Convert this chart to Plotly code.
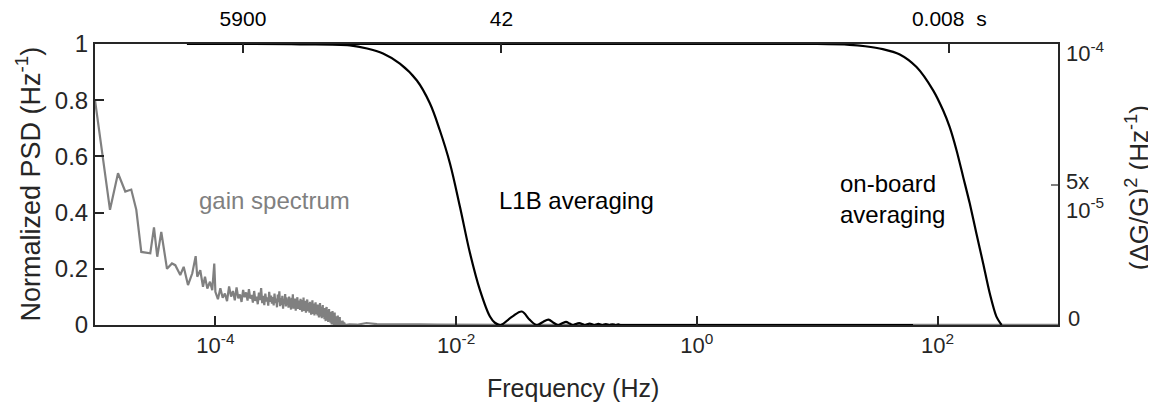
import numpy as np
import plotly.graph_objects as go

# ---------------- data ----------------
# L1B averaging filter response (normalized)
l1b_freq = [5.8e-5, 5.05e-4, 1.31e-3, 1.82e-3, 2.47e-3, 3.41e-3, 4.72e-3, 6.05e-3,
            7.32e-3, 8.89e-3, 1.077e-2, 1.303e-2, 1.578e-2, 1.91e-2, 2.1e-2, 2.34e-2,
            2.925e-2, 3.51e-2, 4.095e-2, 4.68e-2, 5.265e-2, 5.85e-2, 6.435e-2, 7.02e-2,
            7.605e-2, 8.19e-2, 8.775e-2, 9.36e-2, 0.1053, 0.117, 0.1287, 0.1404, 0.152,
            0.1638, 0.1755, 0.1872, 0.199, 0.2106, 0.2223, 0.234, 0.3, 1.0, 10.0, 62.5]
l1b_val = [1.0, 0.999, 0.995, 0.984, 0.966, 0.93, 0.87, 0.789,
           0.693, 0.575, 0.42, 0.256, 0.124, 0.03, 0.008, 0.0,
           0.030, 0.048, 0.018, 0.0, 0.011, 0.019, 0.008, 0.0,
           0.006, 0.011, 0.005, 0.0, 0.007, 0.0, 0.005, 0.0, 0.004,
           0.0, 0.003, 0.0, 0.0025, 0.0, 0.002, 0.0, 0.0, 0.0, 0.0, 0.0]

# On-board averaging filter response (normalized)
ob_freq = [1e-3, 10, 18.6, 25, 35, 48.5, 66.8, 91.8, 111, 126, 143.5, 163, 185, 210,
           239, 271, 308, 340]
ob_val = [1.0, 1.0, 0.997, 0.992, 0.982, 0.963, 0.918, 0.835, 0.764, 0.704, 0.622,
          0.527, 0.432, 0.326, 0.219, 0.113, 0.03, 0.0]

# Gain spectrum, low-frequency part (normalized, 1 = 1e-4 Hz^-1)
gain_lo_freq = [1.0e-5, 1.332e-5, 1.553e-5, 1.785e-5, 2.0e-5, 2.203e-5, 2.424e-5, 2.879e-5,
                3.09e-5, 3.29e-5, 3.553e-5, 3.963e-5, 4.36e-5, 4.645e-5, 5.11e-5, 5.455e-5,
                5.922e-5, 6.43e-5, 6.86e-5, 7.07e-5, 7.49e-5, 7.89e-5, 8.2e-5, 8.57e-5,
                9.02e-5, 9.42e-5, 9.79e-5]
gain_lo_val = [0.80, 0.41, 0.54, 0.475, 0.482, 0.41, 0.26, 0.255,
               0.347, 0.243, 0.331, 0.20, 0.219, 0.213, 0.178, 0.207,
               0.142, 0.184, 0.245, 0.172, 0.195, 0.136, 0.172, 0.13,
               0.154, 0.124, 0.219]

# Gain spectrum, dense noisy band from 1e-4 Hz, one value per 5e-6 Hz bin
gain_band_start = 1.0e-4
gain_band_step = 5.0e-6
gain_band_val = [
    0.118, 0.092, 0.131, 0.097, 0.112, 0.085, 0.137, 0.101, 0.121, 0.088, 0.134, 0.095, 0.109, 0.082, 0.125, 0.099, 0.116, 0.087, 0.128, 0.094,
    0.107, 0.080, 0.121, 0.086, 0.101, 0.074, 0.115, 0.089, 0.131, 0.078, 0.104, 0.071, 0.112, 0.084, 0.098, 0.069, 0.118, 0.082, 0.105, 0.076,
    0.099, 0.070, 0.112, 0.078, 0.094, 0.063, 0.108, 0.081, 0.120, 0.067, 0.096, 0.072, 0.104, 0.058, 0.091, 0.075, 0.110, 0.066, 0.098, 0.071,
    0.090, 0.062, 0.101, 0.070, 0.085, 0.055, 0.097, 0.068, 0.109, 0.058, 0.088, 0.064, 0.094, 0.051, 0.083, 0.066, 0.099, 0.057, 0.087, 0.063,
    0.082, 0.054, 0.093, 0.061, 0.077, 0.047, 0.089, 0.059, 0.098, 0.050, 0.079, 0.056, 0.086, 0.044, 0.074, 0.058, 0.091, 0.049, 0.078, 0.055,
    0.072, 0.044, 0.083, 0.051, 0.067, 0.037, 0.079, 0.049, 0.088, 0.040, 0.069, 0.046, 0.076, 0.034, 0.064, 0.048, 0.081, 0.039, 0.068, 0.045,
    0.062, 0.034, 0.073, 0.041, 0.057, 0.027, 0.069, 0.039, 0.078, 0.030, 0.059, 0.036, 0.066, 0.024, 0.054, 0.038, 0.071, 0.029, 0.058, 0.035,
    0.049, 0.021, 0.060, 0.028, 0.044, 0.014, 0.056, 0.026, 0.064, 0.017, 0.046, 0.023, 0.053, 0.011, 0.041, 0.025, 0.057, 0.016, 0.045, 0.022,
    0.036, 0.008, 0.047, 0.015, 0.031, 0.002, 0.043, 0.013, 0.050, 0.004, 0.033, 0.010, 0.040, -0.002, 0.028, 0.012, 0.044, 0.003, 0.032, 0.009,
    0.022, 0.000, 0.031, 0.004, 0.018, -0.004, 0.027, 0.002, 0.034, -0.003, 0.019, 0.001, 0.025, -0.005, 0.015, 0.003, 0.028, -0.002, 0.017, 0.001,
    0.010, -0.003, 0.015, 0.000, 0.008, -0.004, 0.012, 0.001, 0.016, -0.002, 0.007, 0.000, 0.011, -0.003, 0.006, 0.001, 0.009, -0.001, 0.005, 0.000,
]

# Gain spectrum, high-frequency tail
gain_hi_freq = [1.3e-3, 1.5e-3, 1.8e-3, 2.2e-3, 2.8e-3, 3.5e-3, 5e-3, 7e-3, 1e-2, 2e-2,
                5e-2, 0.1, 1.0, 10.0, 100.0, 1000.0]
gain_hi_val = [0.002, 0.001, 0.007, 0.003, 0.002, 0.001, 0.002, 0.0015, 0.001, 0.001,
               0.0005, 0.0005, 0.0003, 0.0002, 0.0002, 0.0002]

# axis ticks / labels
x_tickvals = [1e-4, 1e-2, 1e0, 1e2]
x_ticktext = ["10<sup>-4</sup>", "10<sup>-2</sup>", "10<sup>0</sup>", "10<sup>2</sup>"]
top_periods = [5900, 42, 0.008]
top_ticktext = ["5900", "42", "0.008\u00a0\u00a0s"]
y_tickvals = [0, 0.2, 0.4, 0.6, 0.8, 1.0]
y_ticktext = ["0", "0.2", "0.4", "0.6", "0.8", "1"]
right_tickvals = [0, 5e-5, 1e-4]
right_ticktext = ["0", "5x<br>10<sup>-5</sup>", "10<sup>-4</sup>"]

# ---------------- figure ----------------
FONT = "Liberation Sans, Arial, Helvetica, sans-serif"
AX = "#262626"
GREY = "#808080"

gain_band_freq = gain_band_start + gain_band_step * np.arange(len(gain_band_val))
gain_freq = list(gain_lo_freq) + list(gain_band_freq) + list(gain_hi_freq)
gain_val = list(gain_lo_val) + list(gain_band_val) + list(gain_hi_val)

fig = go.Figure()
fig.add_trace(go.Scatter(x=gain_freq, y=gain_val, mode="lines",
                         line=dict(color=GREY, width=2.2), hoverinfo="skip", showlegend=False))
fig.add_trace(go.Scatter(x=l1b_freq, y=l1b_val, mode="lines",
                         line=dict(color="black", width=2.2, shape="spline", smoothing=1),
                         hoverinfo="skip", showlegend=False))
fig.add_trace(go.Scatter(x=ob_freq, y=ob_val, mode="lines",
                         line=dict(color="black", width=2.2, shape="spline", smoothing=0.8),
                         hoverinfo="skip", showlegend=False))
# anchor traces so the top and right axes are drawn
fig.add_trace(go.Scatter(x=[None], y=[None], xaxis="x2", yaxis="y", showlegend=False, hoverinfo="skip"))
fig.add_trace(go.Scatter(x=[None], y=[None], xaxis="x", yaxis="y2", showlegend=False, hoverinfo="skip"))

common_axis = dict(showgrid=False, zeroline=False, showline=True, linecolor=AX, linewidth=2,
                   ticks="inside", ticklen=9, tickwidth=2, tickcolor=AX, automargin=False)

# the page body has an 8px default margin, so the figure is 8px smaller
fig.update_layout(
    width=1148, height=405,
    margin=dict(l=87, r=98, t=36, b=88),
    paper_bgcolor="white", plot_bgcolor="white",
    font=dict(family=FONT, color=AX),
    xaxis=dict(type="log", range=[-5, 3], tickvals=x_tickvals, ticktext=x_ticktext,
               tickfont=dict(size=22, color=AX), **common_axis),
    xaxis2=dict(type="log", range=[-5, 3], overlaying="x", side="top", anchor="y",
                tickvals=[1.0 / p for p in top_periods], ticktext=top_ticktext,
                ticklabelstandoff=8,
                tickfont=dict(size=21, color="black"), **common_axis),
    yaxis=dict(range=[0, 1], tickvals=y_tickvals, ticktext=y_ticktext,
               tickfont=dict(size=24, color=AX), **common_axis),
    yaxis2=dict(range=[0, 1e-4], overlaying="y", side="right", anchor="x",
                tickvals=[5e-5], showticklabels=False, showgrid=False, zeroline=False,
                showline=True, linecolor=AX, linewidth=2, ticks="inside", ticklen=7,
                tickwidth=2, tickcolor=GREY, automargin=False),
)

ann = []
# right-axis tick labels
ann.append(dict(xref="paper", yref="y2", x=1, xshift=6, y=right_tickvals[2], yshift=-8,
                text=right_ticktext[2], xanchor="left", yanchor="middle", showarrow=False,
                font=dict(size=22, color=AX)))
ann.append(dict(xref="paper", yref="y2", x=1, xshift=6, y=right_tickvals[1], yshift=-11,
                text=right_ticktext[1], xanchor="left", yanchor="middle", align="left",
                showarrow=False, font=dict(size=22, color=AX)))
ann.append(dict(xref="paper", yref="y2", x=1, xshift=8, y=right_tickvals[0], yshift=7,
                text=right_ticktext[0], xanchor="left", yanchor="middle", showarrow=False,
                font=dict(size=22, color=AX)))
# axis titles
ann.append(dict(xref="paper", yref="paper", x=0, xshift=-67, y=0.5, text="Normalized PSD (Hz<sup>-1</sup>)",
                textangle=-90, xanchor="center", yanchor="middle", showarrow=False,
                font=dict(size=27, color=AX)))
ann.append(dict(xref="paper", yref="paper", x=1, xshift=79, y=0.487,
                text="(\u0394G/G)<sup>2</sup> (Hz<sup>-1</sup>)",
                textangle=-90, xanchor="center", yanchor="middle", showarrow=False,
                font=dict(size=26, color=AX)))
ann.append(dict(xref="paper", yref="paper", x=0.5, xshift=-4, y=0, yshift=-63,
                text="Frequency (Hz)", xanchor="center", yanchor="middle", showarrow=False,
                font=dict(size=25, color=AX)))
# curve labels
ann.append(dict(xref="x", yref="y", x=-3.505, y=0.444, text="gain spectrum",
                xanchor="center", yanchor="middle", showarrow=False, font=dict(size=24, color=GREY)))
ann.append(dict(xref="x", yref="y", x=-1.0, y=0.444, text="L1B averaging",
                xanchor="center", yanchor="middle", showarrow=False, font=dict(size=24, color="black")))
ann.append(dict(xref="x", yref="y", x=1.171, y=0.45, text="on-board<br>averaging",
                xanchor="left", yanchor="middle", align="left", showarrow=False,
                font=dict(size=24, color="black")))
fig.update_layout(annotations=ann)

fig.write_html("out.html")
